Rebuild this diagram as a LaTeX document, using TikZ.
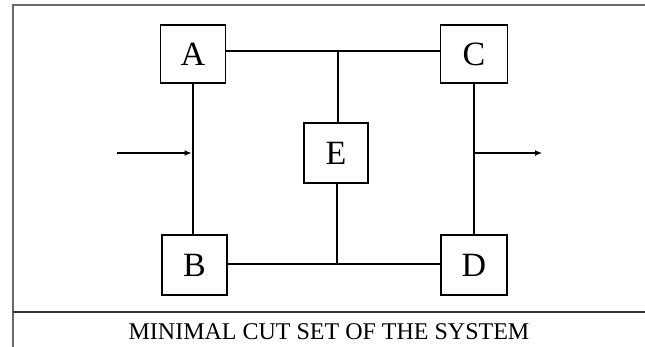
\documentclass[tikz,border=0pt]{standalone}
\usepackage{fontspec}
\setmainfont{Liberation Serif}
\usetikzlibrary{arrows.meta}
\definecolor{framegray}{RGB}{105,105,105}
\tikzset{
  block/.style={draw=black, line width=1.5pt, fill=white, inner sep=0pt,
    font=\fontsize{34}{34}\selectfont},
  wire/.style={draw=black, line width=1.4pt},
  flow/.style={wire, line width=1.2pt, -{Latex[length=7pt,width=6pt]}},
  frameline/.style={draw=framegray, line width=2pt}
}
\begin{document}
\begin{tikzpicture}[x=1pt, y=-1pt]
  \useasboundingbox (0,0) rectangle (645,347);

  % outer frame and caption rule
  \draw[frameline] (12.5,347) -- (12.5,5.5) -- (645,5.5);
  \draw[frameline, draw=black!80] (12.5,312) -- (645,312);

  % components
  \node[block, minimum width=65pt, minimum height=58pt] (A) at (193,54) {A};
  \node[block, minimum width=67pt, minimum height=58pt] (C) at (474,54) {C};
  \node[block, minimum width=64pt, minimum height=60pt] (E) at (336,153) {E};
  \node[block, minimum width=65pt, minimum height=60pt] (B) at (194.5,265) {B};
  \node[block, minimum width=66pt, minimum height=60pt] (D) at (474,265) {D};

  % junction points and free ends
  \coordinate (top) at (338,51);
  \coordinate (bot) at (337,264);
  \coordinate (inL) at (117,153);
  \coordinate (inR) at (191.5,153);
  \coordinate (outL) at (474,153);
  \coordinate (outR) at (542,153);

  % connections
  \draw[wire] ([yshift=3pt]A.east) -- ([yshift=3pt]C.west);
  \draw[wire] ([yshift=1pt]B.east) -- ([yshift=1pt]D.west);
  \draw[wire] (A.south) -- (A.south |- B.north);
  \draw[wire] (C.south) -- (C.south |- D.north);
  \draw[wire] (top) -- (top |- E.north);
  \draw[wire] (bot |- E.south) -- (bot);
  \draw[flow] (inL) -- (inR);
  \draw[flow] (outL) -- (outR);

  % caption
  \node[font=\fontsize{24}{24}\selectfont, anchor=base] (cap) at (329,339)
    {MINIMAL CUT SET OF THE SYSTEM};
\end{tikzpicture}
\end{document}
